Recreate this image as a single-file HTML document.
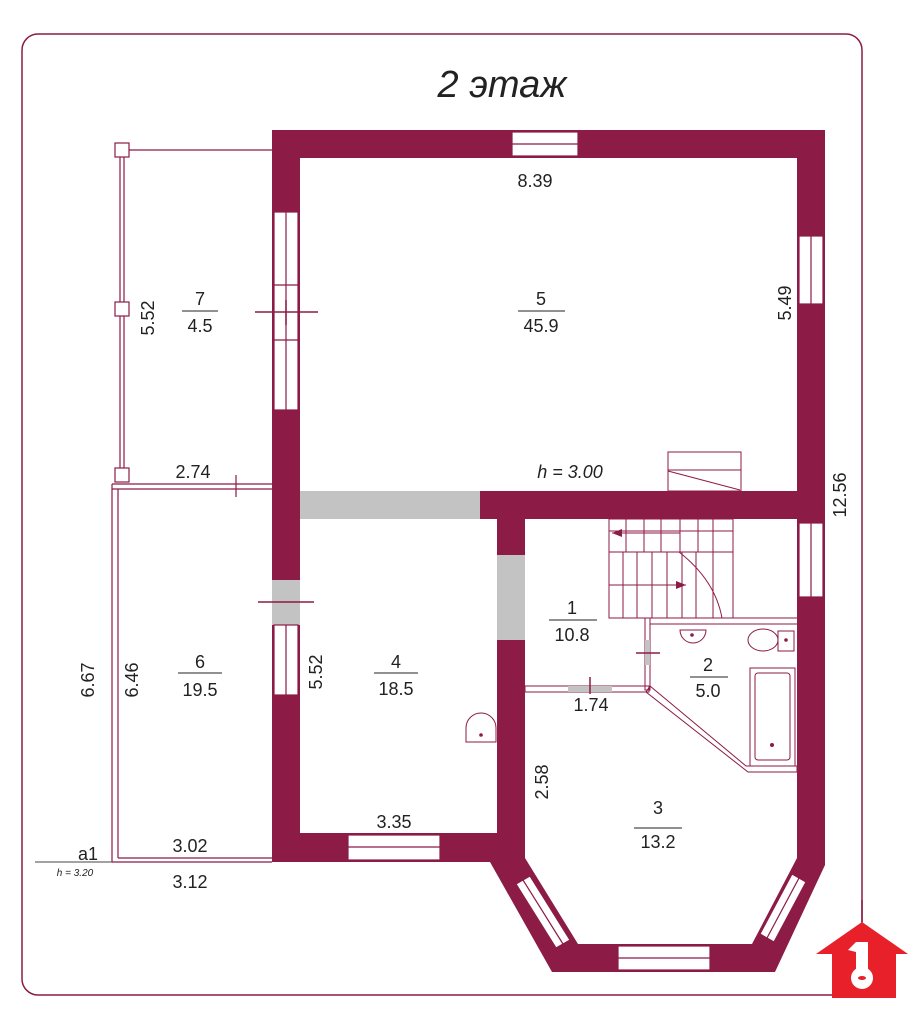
<!DOCTYPE html>
<html><head><meta charset="utf-8"><style>
html,body{margin:0;padding:0;background:#fff;}
svg{display:block;font-family:"Liberation Sans",sans-serif;}
</style></head><body>
<svg width="922" height="1024" viewBox="0 0 922 1024" xmlns="http://www.w3.org/2000/svg">
<rect x="22" y="34" width="840" height="961" rx="16" fill="none" stroke="#8c1b46" stroke-width="1.5"/>
<text x="502" y="97" font-size="38" font-style="italic" text-anchor="middle" fill="#222">2 этаж</text>

<!-- building walls -->
<polygon points="272,130 825,130 825,865 775,972 552,972 490,862 272,862" fill="#8c1b46"/>
<!-- rooms -->
<rect x="300" y="158" width="497" height="333" fill="#fff"/>
<rect x="300" y="519" width="197" height="314" fill="#fff"/>
<polygon points="525,519 797,519 797,858 752,944 578,944 525,858" fill="#fff"/>
<!-- doorways gray -->
<rect x="300" y="491" width="180" height="28" fill="#c3c3c3"/>
<rect x="497" y="555" width="28" height="85" fill="#c3c3c3"/>
<rect x="272" y="580" width="28" height="45" fill="#c3c3c3"/>

<!-- windows -->
<g fill="#fff" stroke="#8c1b46" stroke-width="1.2">
<rect x="512" y="132" width="66" height="24"/><line x1="512" y1="144" x2="578" y2="144"/>
<rect x="799" y="236" width="24" height="68"/><line x1="811" y1="236" x2="811" y2="304"/>
<rect x="799" y="523" width="24" height="74"/><line x1="811" y1="523" x2="811" y2="597"/>
<rect x="274" y="212" width="24" height="198"/><line x1="286" y1="212" x2="286" y2="410"/>
<line x1="274" y1="285" x2="298" y2="285"/><line x1="274" y1="340" x2="298" y2="340"/>
<rect x="274" y="625" width="24" height="70"/><line x1="286" y1="625" x2="286" y2="695"/>
<rect x="348" y="835" width="92" height="25"/><line x1="348" y1="847" x2="440" y2="847"/>
<rect x="618" y="946" width="92" height="24"/><line x1="618" y1="958" x2="710" y2="958"/>
<polygon points="516,884 530,876 570,940 556,948"/><line x1="523" y1="880" x2="563" y2="944"/>
<polygon points="760,934 774,942 806,882 792,874"/><line x1="767" y1="938" x2="799" y2="878"/>
</g>
<line x1="255" y1="312" x2="318" y2="312" stroke="#8c1b46" stroke-width="1.5"/>
<line x1="286" y1="300" x2="286" y2="325" stroke="#8c1b46" stroke-width="1.5"/>
<line x1="258" y1="602" x2="314" y2="602" stroke="#8c1b46" stroke-width="1.5"/>

<!-- stair box in room 5 -->
<g fill="none" stroke="#8c1b46" stroke-width="1">
<rect x="668" y="452" width="73" height="39"/><line x1="668" y1="470" x2="741" y2="470"/><line x1="668" y1="471" x2="740" y2="490"/>
<!-- stairs -->
<rect x="609" y="519" width="124" height="99"/>
<line x1="609" y1="552" x2="733" y2="552"/><line x1="609" y1="531" x2="733" y2="531"/>
<line x1="609" y1="585" x2="686" y2="585"/>
<line x1="626" y1="519" x2="626" y2="552"/><line x1="644" y1="519" x2="644" y2="552"/><line x1="661" y1="519" x2="661" y2="552"/><line x1="680" y1="519" x2="680" y2="552"/><line x1="698" y1="519" x2="698" y2="552"/><line x1="713" y1="519" x2="713" y2="618"/>
<line x1="623" y1="552" x2="623" y2="618"/><line x1="637" y1="552" x2="637" y2="618"/><line x1="652" y1="552" x2="652" y2="618"/><line x1="667" y1="552" x2="667" y2="618"/><line x1="682" y1="552" x2="682" y2="618"/><line x1="696" y1="552" x2="696" y2="618"/>
<path d="M679,552 Q715,580 722,618"/>
<!-- partitions -->
<rect x="525" y="686" width="124" height="6"/>
<rect x="645" y="618" width="5" height="72"/>
<line x1="645" y1="618" x2="797" y2="618"/><line x1="650" y1="624" x2="797" y2="624"/>
<polygon points="650,686 746,766 797,766 797,772 748,772 646,692"/>
<!-- bath -->
<rect x="750" y="668" width="45" height="98"/><rect x="755" y="673" width="35" height="87" rx="3"/>
<path d="M680,630 h26 a13,13 0 0 1 -26,0z"/>
<ellipse cx="763" cy="640" rx="15" ry="11"/><rect x="778" y="631" width="16" height="20"/>
<path d="M466,742 v-14 a15,15 0 0 1 30,0 v14 z"/>
</g>
<rect x="568" y="686" width="44" height="6" fill="#c3c3c3"/>
<rect x="645" y="640" width="5" height="25" fill="#c3c3c3"/>
<line x1="590" y1="677" x2="590" y2="694" stroke="#8c1b46" stroke-width="1.5"/>
<line x1="636" y1="653" x2="660" y2="653" stroke="#8c1b46" stroke-width="1.5"/>
<line x1="612" y1="533" x2="680" y2="533" stroke="#8c1b46"/><polygon points="612,533 622,529 622,537" fill="#8c1b46"/>
<line x1="609" y1="585" x2="684" y2="585" stroke="#8c1b46"/><polygon points="686,585 676,581 676,589" fill="#8c1b46"/>
<circle cx="692" cy="635" r="1.8" fill="#8c1b46"/><circle cx="786" cy="640" r="1.8" fill="#8c1b46"/><circle cx="772" cy="745" r="2" fill="#8c1b46"/><circle cx="481" cy="735" r="1.8" fill="#8c1b46"/>

<!-- balcony 7 -->
<g stroke="#8c1b46" stroke-width="1.2" fill="#fff">
<line x1="122" y1="150" x2="272" y2="150"/>
<line x1="120" y1="150" x2="120" y2="475"/><line x1="124" y1="150" x2="124" y2="475"/>
<rect x="115" y="143" width="14" height="14"/><rect x="115" y="302" width="14" height="14"/><rect x="115" y="468" width="14" height="14"/>
<!-- room 6 -->
<line x1="112" y1="484" x2="272" y2="484"/><line x1="112" y1="489" x2="272" y2="489"/>
<line x1="112" y1="484" x2="112" y2="862"/><line x1="118" y1="489" x2="118" y2="858"/>
<line x1="118" y1="858" x2="272" y2="858"/><line x1="112" y1="862" x2="272" y2="862"/>
</g>
<line x1="236" y1="475" x2="236" y2="497" stroke="#8c1b46" stroke-width="1.2"/>
<line x1="35" y1="862" x2="112" y2="862" stroke="#444" stroke-width="1"/>

<!-- labels -->
<g font-size="18" fill="#222" text-anchor="middle">
<text x="535" y="187">8.39</text>
<text x="541" y="305">5</text><line x1="518" y1="311" x2="565" y2="311" stroke="#222"/><text x="541" y="332">45.9</text>
<text x="200" y="305">7</text><line x1="182" y1="311" x2="218" y2="311" stroke="#222"/><text x="200" y="332">4.5</text>
<text x="193" y="478">2.74</text>
<text x="570" y="478" font-style="italic">h = 3.00</text>
<text x="200" y="668">6</text><line x1="178" y1="673" x2="222" y2="673" stroke="#222"/><text x="200" y="696">19.5</text>
<text x="396" y="668">4</text><line x1="374" y1="673" x2="418" y2="673" stroke="#222"/><text x="396" y="695">18.5</text>
<text x="572" y="614">1</text><line x1="549" y1="620" x2="597" y2="620" stroke="#222"/><text x="572" y="641">10.8</text>
<text x="708" y="671">2</text><line x1="690" y1="677" x2="728" y2="677" stroke="#222"/><text x="708" y="697">5.0</text>
<text x="591" y="711">1.74</text>
<text x="658" y="814">3</text><line x1="634" y1="828" x2="682" y2="828" stroke="#222"/><text x="658" y="848">13.2</text>
<text x="394" y="828">3.35</text>
<text x="190" y="852">3.02</text>
<text x="190" y="888">3.12</text>
<text x="88" y="860">a1</text>
<text x="75" y="876" font-size="10" font-style="italic">h = 3.20</text>
<text transform="translate(154,318) rotate(-90)">5.52</text>
<text transform="translate(791,303) rotate(-90)">5.49</text>
<text transform="translate(846,495) rotate(-90)">12.56</text>
<text transform="translate(94,680) rotate(-90)">6.67</text>
<text transform="translate(138,680) rotate(-90)">6.46</text>
<text transform="translate(322,672) rotate(-90)">5.52</text>
<text transform="translate(548,782) rotate(-90)">2.58</text>
</g>

<!-- logo -->
<g>
<line x1="862" y1="900" x2="862" y2="922" stroke="#8c1b46" stroke-width="1.5"/>
<polygon points="862,922 908,954 896,954 896,998 832,998 832,954 816,954" fill="#e8202a"/>
<circle cx="862" cy="978" r="11" fill="#fff"/><rect x="856" y="942" width="12" height="30" fill="#fff"/><polygon points="856,942 868,942 856,952 848,950" fill="#fff"/>
<ellipse cx="862" cy="978" rx="4" ry="2" fill="#e8202a"/>
</g>
</svg>
</body></html>
